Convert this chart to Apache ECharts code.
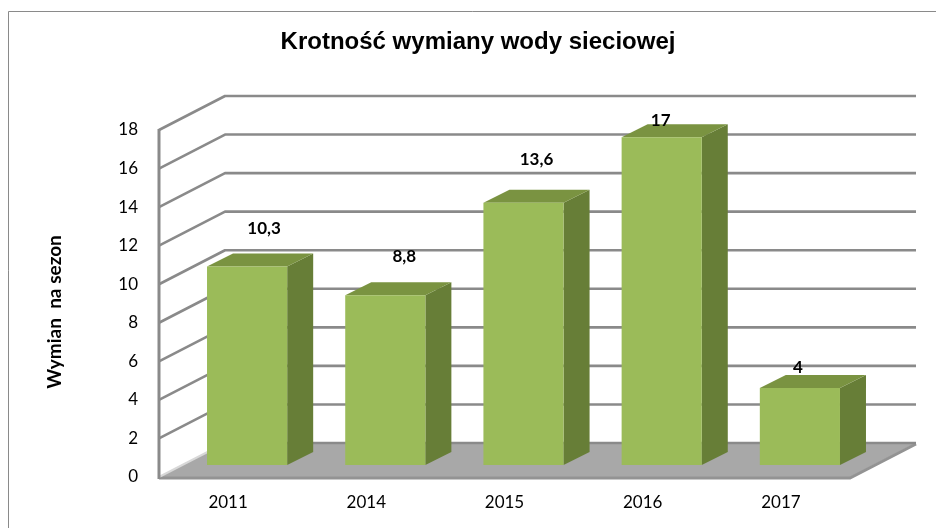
<!DOCTYPE html>
<html>
<head>
<meta charset="utf-8">
<script src="https://cdn.jsdelivr.net/npm/echarts@6/dist/echarts.min.js"></script>
<style>
  html, body { margin: 0; padding: 0; background: #fff; }
  #chart { width: 936px; height: 528px; }
</style>
</head>
<body>
<div id="chart"></div>
<script>
// Data
const categories = ['2011', '2014', '2015', '2016', '2017'];
const exchanges = [10.3, 8.8, 13.6, 17, 4];
const valueLabels = ['10,3', '8,8', '13,6', '17', '4'];
const yMin = 0, yMax = 18, yStep = 2;
const titleText = 'Krotność wymiany wody sieciowej';
const yTitle = 'Wymian  na sezon';

// Pseudo-3D geometry (pixels)
const WALL_DEPTH = [66, -34];   // front plane -> back wall
const BAR_SHIFT = [19, -12];    // front plane -> bar front face
const BAR_DEPTH = [26, -13];    // bar front face -> bar back face
const BAR_FRACTION = 0.58;      // bar width as share of the category band
// hand-placed value labels: offset from the bar's front top centre
const labelNudge = [[17, -38], [19, -39], [13, -43], [-1, -17], [-2, -20]];

const LINE = '#8a8a8a';
const FONT = 'Lato, "Open Sans", sans-serif';

const tickValues = [];
for (let v = yMin; v <= yMax; v += yStep) tickValues.push(v);

function renderFrame(params, api) {
  const cs = params.coordSys;
  const L = cs.x, R = cs.x + cs.width;
  const [dx, dy] = WALL_DEPTH;
  const y0 = api.coord([0, yMin])[1];
  const yTop = api.coord([0, yMax])[1];
  const children = [];
  // floor
  children.push({
    type: 'polygon',
    shape: { points: [[L, y0], [R, y0], [R + dx, y0 + dy], [L + dx, y0 + dy]] },
    style: { fill: '#a8a8a8' }
  });
  children.push({
    type: 'polyline',
    shape: { points: [[L, y0 + 1], [R, y0 + 1], [R + dx, y0 + dy + 1]] },
    style: { stroke: '#939393', lineWidth: 3, fill: null }
  });
  children.push({
    type: 'line',
    shape: { x1: L, y1: y0, x2: L + dx, y2: y0 + dy },
    style: { stroke: '#d8d8d8', lineWidth: 2 }
  });
  // gridlines on the side and back walls
  tickValues.forEach(v => {
    const y = api.coord([0, v])[1];
    const pts = v === yMin
      ? [[L + dx, y + dy], [R + dx, y + dy]]
      : [[L, y], [L + dx, y + dy], [R + dx, y + dy]];
    children.push({
      type: 'polyline',
      shape: { points: pts },
      style: { stroke: LINE, lineWidth: 2.6, fill: null, lineJoin: 'round' }
    });
  });
  // front vertical edge of the side wall
  children.push({
    type: 'line',
    shape: { x1: L, y1: yTop - 1, x2: L, y2: y0 + 2 },
    style: { stroke: LINE, lineWidth: 3 }
  });
  return { type: 'group', children };
}

function renderBar(params, api) {
  const idx = api.value(0);
  const val = api.value(1);
  const top = api.coord([idx, val]);
  const base = api.coord([idx, 0]);
  const bw = api.size([1, 0])[0] * BAR_FRACTION;
  const x0 = top[0] + BAR_SHIFT[0] - bw / 2;
  const x1 = x0 + bw;
  const yT = top[1] + BAR_SHIFT[1];
  const yB = base[1] + BAR_SHIFT[1];
  const [dx, dy] = BAR_DEPTH;
  const nudge = labelNudge[params.dataIndex];
  return {
    type: 'group',
    children: [
      {
        type: 'polygon',
        shape: { points: [[x1, yT], [x1 + dx, yT + dy], [x1 + dx, yB + dy], [x1, yB]] },
        style: { fill: '#677e37' }
      },
      {
        type: 'polygon',
        shape: { points: [[x0, yT], [x1, yT], [x1 + dx, yT + dy], [x0 + dx, yT + dy]] },
        style: { fill: '#7a9341' }
      },
      {
        type: 'rect',
        shape: { x: x0, y: yT, width: bw, height: yB - yT },
        style: { fill: '#9bbb59' }
      },
      {
        type: 'text',
        x: (x0 + x1) / 2 + nudge[0],
        y: yT + nudge[1],
        style: {
          text: valueLabels[params.dataIndex],
          fill: '#000',
          font: 'bold 17px ' + FONT,
          textAlign: 'center',
          textVerticalAlign: 'middle'
        }
      }
    ]
  };
}

const chart = echarts.init(document.getElementById('chart'), null, { renderer: 'canvas' });
chart.setOption({
  animation: false,
  backgroundColor: '#fff',
  grid: { left: 159, right: 86, top: 130, bottom: 51 },
  xAxis: {
    type: 'category',
    data: categories,
    axisLine: { show: false },
    axisTick: { show: false },
    axisLabel: { color: '#000', fontSize: 17, fontFamily: FONT, margin: 17 }
  },
  yAxis: {
    type: 'value',
    min: yMin,
    max: yMax,
    interval: yStep,
    axisLine: { show: false },
    axisTick: { show: false },
    splitLine: { show: false },
    axisLabel: { color: '#000', fontSize: 17, fontFamily: FONT, margin: 21 }
  },
  graphic: [
    {
      type: 'rect',
      shape: { x: 8.5, y: 11.5, width: 1000, height: 600 },
      style: { fill: null, stroke: '#8a8a8a', lineWidth: 1 },
      silent: true
    },
    {
      type: 'text',
      x: 478,
      y: 42,
      style: {
        text: titleText,
        font: 'bold 24px "Liberation Sans", Arial, sans-serif',
        fill: '#000',
        textAlign: 'center',
        textVerticalAlign: 'middle'
      }
    },
    {
      type: 'text',
      x: 55,
      y: 312,
      rotation: Math.PI / 2,
      style: {
        text: yTitle,
        font: 'bold 19px ' + FONT,
        fill: '#000',
        textAlign: 'center',
        textVerticalAlign: 'middle'
      }
    }
  ],
  series: [
    {
      type: 'custom',
      name: 'frame',
      silent: true,
      data: [[0, 0]],
      renderItem: renderFrame,
      z: 1
    },
    {
      type: 'custom',
      name: 'Wymian na sezon',
      data: exchanges.map((v, i) => [i, v]),
      renderItem: renderBar,
      encode: { x: 0, y: 1 },
      z: 2
    }
  ]
});
</script>
</body>
</html>
